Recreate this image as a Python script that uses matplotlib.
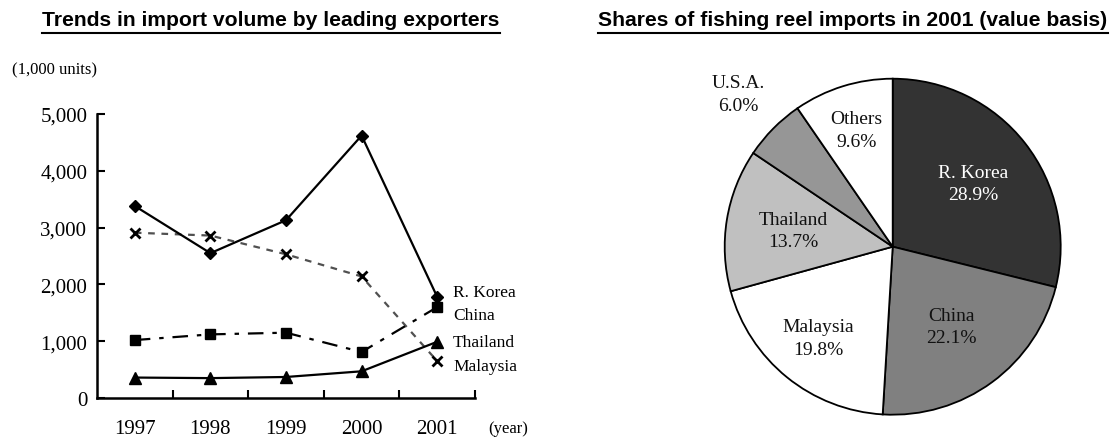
import numpy as np
import matplotlib
matplotlib.use("Agg")
import matplotlib.pyplot as plt
from matplotlib.lines import Line2D

# data for the line chart (1,000 units)
years = [1997, 1998, 1999, 2000, 2001]
korea = [3380, 2550, 3130, 4620, 1780]
malaysia = [2910, 2860, 2530, 2140, 650]
china = [1020, 1120, 1150, 810, 1600]
thailand = [360, 350, 370, 470, 990]

# data for the pie chart (% of import value, 2001)
pie_names = ["R. Korea", "China", "Malaysia", "Thailand", "U.S.A.", "Others"]
pie_shares = [28.9, 22.1, 19.8, 13.7, 6.0, 9.6]
pie_colors = ["#333333", "#808080", "#ffffff", "#c0c0c0", "#969696", "#ffffff"]
pie_text_colors = ["white", "#111111", "#111111", "#111111", "#111111", "#111111"]
pie_label_dist = [0.61, 0.59, 0.70, 0.60, 1.29, 0.73]

W, H = 1114, 439
fig = plt.figure(figsize=(W / 100, H / 100), dpi=100)
serif = ["Liberation Serif", "DejaVu Serif"]
sans = ["Liberation Sans", "DejaVu Sans"]

# ---- line chart ----
ax = fig.add_axes([97 / W, 40 / H, 378 / W, 284 / H])
lw = 1.6
ax.plot(years, malaysia, color="#505050", lw=lw, linestyle=(0, (3, 3)),
        marker="x", markersize=7, markeredgewidth=2, markeredgecolor="black", zorder=2)
ax.plot(years, china, color="black", lw=lw, linestyle=(0, (7, 4, 2, 4)),
        marker="s", markersize=7.5, zorder=3)
ax.plot(years, thailand, color="black", lw=lw, marker="^", markersize=8, zorder=3)
ax.plot(years, korea, color="black", lw=lw, marker="D", markersize=6, zorder=4)

ax.set_xlim(1996.5, 2001.5)
ax.set_ylim(0, 5000)
ax.set_yticks(np.arange(0, 5001, 1000))
ax.set_yticklabels([f"{v:,}" for v in range(0, 5001, 1000)])
ax.set_xticks(years)
ax.set_xticks(np.arange(1997.5, 2001.6, 1.0), minor=True)
ax.tick_params(axis="x", which="major", length=0, pad=15)
ax.tick_params(axis="x", which="minor", direction="in", length=6, width=1.5)
ax.tick_params(axis="y", direction="in", length=6, width=1.5, pad=7)
for lab in ax.get_xticklabels() + ax.get_yticklabels():
    lab.set_family(serif)
    lab.set_fontsize(15)
for s in ["top", "right"]:
    ax.spines[s].set_visible(False)
for s in ["left", "bottom"]:
    ax.spines[s].set_linewidth(1.8)

# series labels at the end of the lines
end_labels = [("R. Korea", 1860), ("China", 1470), ("Thailand", 980), ("Malaysia", 570)]
for name, yv in end_labels:
    ax.text(2001.21, yv, name, fontsize=12.5, family=serif, va="center", ha="left")

fig.text(12 / W, 1 - 70 / H, "(1,000 units)", fontsize=12, family=serif, va="center", ha="left")
fig.text(488 / W, 1 - 429 / H, "(year)", fontsize=12, family=serif, va="center", ha="left")

# ---- pie chart ----
R = 168
cx, cy = 892.7, H - 247.7
pax = fig.add_axes([(cx - R) / W, (cy - R) / H, 2 * R / W, 2 * R / H])
wedges, _ = pax.pie(pie_shares, colors=pie_colors, startangle=90, counterclock=False,
                    wedgeprops=dict(edgecolor="black", linewidth=1.3))
pax.set_xlim(-1.0, 1.0)
pax.set_ylim(-1.0, 1.0)
for w, name, share, col, d in zip(wedges, pie_names, pie_shares, pie_text_colors, pie_label_dist):
    ang = np.deg2rad((w.theta1 + w.theta2) / 2)
    pax.text(d * np.cos(ang), d * np.sin(ang), f"{name}\n{share:.1f}%", ha="center", va="center",
             fontsize=14, family=serif, color=col, linespacing=1.45)

# ---- underlined titles ----
titles = [(271 / W, "Trends in import volume by leading exporters"),
          (853 / W, "Shares of fishing reel imports in 2001 (value basis)")]
fig.canvas.draw()
r = fig.canvas.get_renderer()
for x, t in titles:
    txt = fig.text(x, 1 - 21 / H, t, fontsize=15.2, family=sans, weight="bold", ha="center", va="center")
    bb = txt.get_window_extent(renderer=r)
    yline = (H - 34) / H
    fig.add_artist(Line2D([bb.x0 / W, bb.x1 / W], [yline, yline], color="black", lw=1.5,
                          transform=fig.transFigure))

fig.savefig("out.png", dpi=100)
